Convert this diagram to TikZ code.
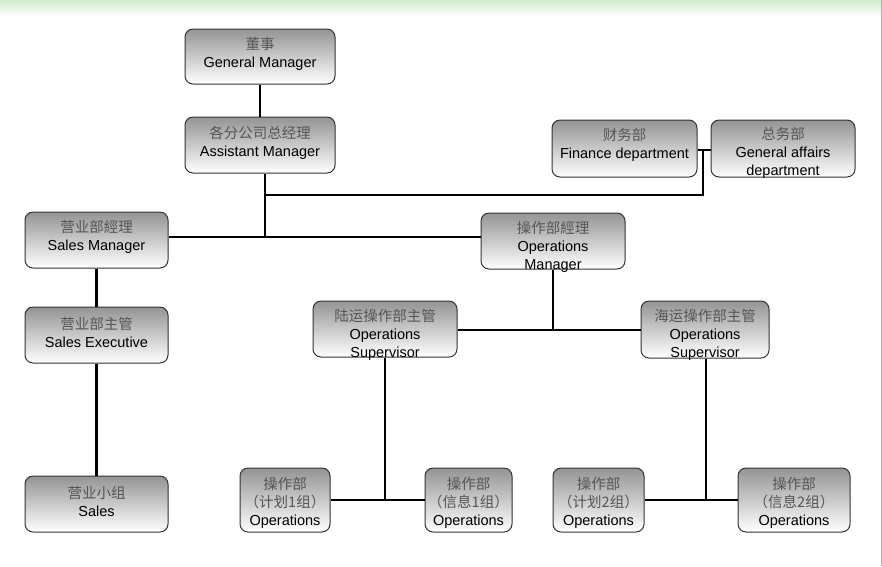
\documentclass[tikz,border=0pt]{standalone}
\usepackage{fontspec}
\setmainfont{Liberation Sans}
\newfontfamily\cjk{Noto Sans CJK SC}
\definecolor{cjkgray}{RGB}{85,85,85}
\definecolor{bandgreen}{RGB}{208,236,204}
\tikzset{
  orgbox/.style={draw=black!80, line width=1pt, rounded corners=8pt,
    top color=black!42, bottom color=white, inner sep=0pt},
  orgtxt/.style={align=center, inner sep=0pt, font=\fontsize{14.5}{18}\selectfont},
  link/.style={line width=2.6pt, line cap=butt},
  thinlink/.style={line width=2pt},
}
\newcommand{\zh}[1]{{\cjk\color{cjkgray}#1}}
\begin{document}
\begin{tikzpicture}[x=1pt,y=-1pt]
\useasboundingbox (0,0) rectangle (882,566);
\shade[top color=bandgreen, bottom color=white] (0,0) rectangle (882,16);
\draw[black!30, line width=1pt] (881,0) -- (881,566);

% boxes: center, width, height
\node[orgbox, minimum width=150, minimum height=55] (gm) at (260,56.5) {};
\node[orgtxt] (gmt) at (260,54) {\zh{董事}\\General Manager};

\node[orgbox, minimum width=150, minimum height=56] (am) at (260,145) {};
\node[orgtxt] (amt) at (260,142.5) {\zh{各分公司总经理}\\Assistant Manager};

\node[orgbox, minimum width=145, minimum height=57] (fin) at (624.5,148.5) {};
\node[orgtxt] (fint) at (624.5,145) {\zh{财务部}\\Finance department};

\node[orgbox, minimum width=144, minimum height=57] (ga) at (783,148.5) {};
\node[orgtxt] (gat) at (783,152.5) {\zh{总务部}\\General affairs\\department};

\node[orgbox, minimum width=143, minimum height=56] (sm) at (96.5,240) {};
\node[orgtxt] (smt) at (96.5,237) {\zh{营业部經理}\\Sales Manager};

\node[orgbox, minimum width=144, minimum height=56] (om) at (553,241) {};
\node[orgtxt] (omt) at (553,247) {\zh{操作部經理}\\Operations\\Manager};

\node[orgbox, minimum width=143, minimum height=56] (se) at (96.5,335) {};
\node[orgtxt] (set) at (96.5,332) {\zh{营业部主管}\\Sales Executive};

\node[orgbox, minimum width=144, minimum height=56] (ls) at (385,329) {};
\node[orgtxt] (lst) at (385,335) {\zh{陆运操作部主管}\\Operations\\Supervisor};

\node[orgbox, minimum width=128, minimum height=57] (ss) at (705,329.5) {};
\node[orgtxt] (sst) at (705,335) {\zh{海运操作部主管}\\Operations\\Supervisor};

\node[orgbox, minimum width=143, minimum height=56] (sa) at (96.5,504) {};
\node[orgtxt] (sat) at (96.5,501) {\zh{营业小组}\\Sales};

\node[orgbox, minimum width=90, minimum height=64] (p1) at (285,500) {};
\node[orgtxt] (p1t) at (285,502.5) {\zh{操作部}\\\zh{（计划1组）}\\Operations};

\node[orgbox, minimum width=87, minimum height=64] (i1) at (468.5,500) {};
\node[orgtxt] (i1t) at (468.5,502.5) {\zh{操作部}\\\zh{（信息1组）}\\Operations};

\node[orgbox, minimum width=91, minimum height=64] (p2) at (598.5,500) {};
\node[orgtxt] (p2t) at (598.5,502.5) {\zh{操作部}\\\zh{（计划2组）}\\Operations};

\node[orgbox, minimum width=112, minimum height=64] (i2) at (794,500) {};
\node[orgtxt] (i2t) at (794,502.5) {\zh{操作部}\\\zh{（信息2组）}\\Operations};

% junction coordinates
\coordinate (j1) at (265,237);
\coordinate (j2) at (703,150);
\coordinate (j3) at (265,195);
\coordinate (j4) at (553,330);
\coordinate (j5) at (385,500);
\coordinate (j6) at (706,500);

% connectors
\draw[link] (gm.south) -- (am.north);
\draw[link] ([xshift=5pt]am.south) -- (j1);
\draw[thinlink] (sm.east |- j1) -- (om.west |- j1);
\draw[link] (fin.east |- j2) -- (ga.west |- j2);
\draw[link] (j2) |- (j3);
\draw[link] (om.south) -- (j4);
\draw[thinlink] (ls.east |- j4) -- (ss.west |- j4);
\draw[link] (sm.south) -- (se.north);
\draw[link] (se.south) -- (sa.north);
\draw[link] (ls.south) -- (j5);
\draw[link] (p1.east) -- (i1.west);
\draw[link] (ss.south -| j6) -- (j6);
\draw[link] (p2.east) -- (i2.west);
\end{tikzpicture}
\end{document}
